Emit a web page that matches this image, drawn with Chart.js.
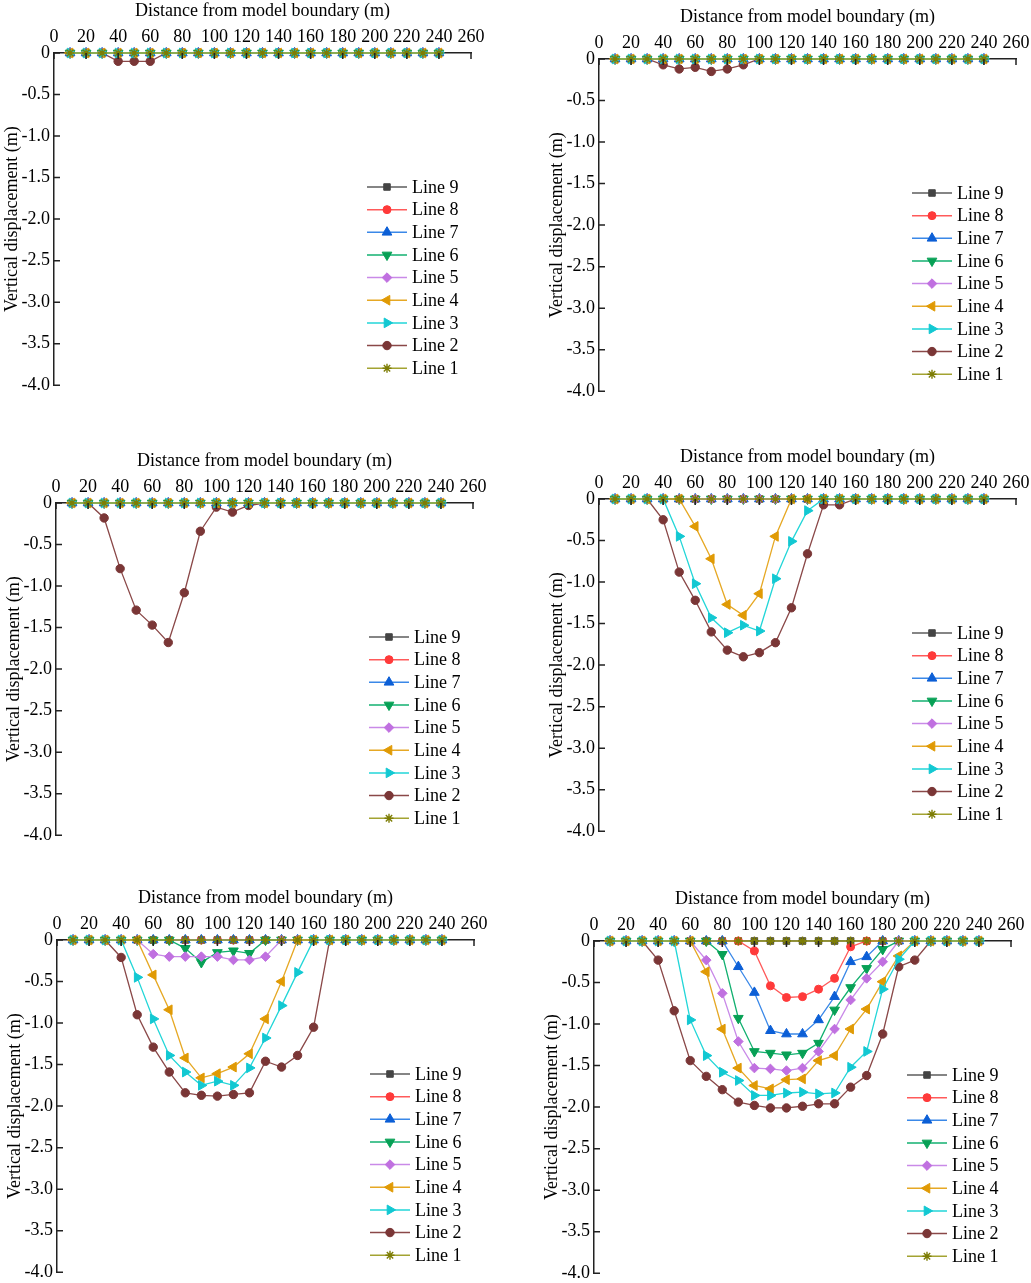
<!DOCTYPE html>
<html>
<head>
<meta charset="utf-8">
<script src="https://cdn.jsdelivr.net/npm/chart.js@4.4.1/dist/chart.umd.min.js"></script>
<style>
  body { margin: 0; background: #fff; }
  .page { position: relative; width: 1031px; height: 1283px; overflow: hidden; background: #fff; }
  .page canvas { position: absolute; }
</style>
</head>
<body>
<div class="page">
  <canvas id="panelA" width="491" height="400" style="left:0px;top:0px"></canvas>
  <canvas id="panelB" width="491" height="400" style="left:545px;top:6px"></canvas>
  <canvas id="panelC" width="491" height="400" style="left:2px;top:450px"></canvas>
  <canvas id="panelD" width="491" height="400" style="left:545px;top:446px"></canvas>
  <canvas id="panelE" width="491" height="400" style="left:3px;top:887px"></canvas>
  <canvas id="panelF" width="491" height="400" style="left:540px;top:888px"></canvas>
</div>
<script>
// distance along the profile (m)
const distance = [10,20,30,40,50,60,70,80,90,100,110,120,130,140,150,160,170,180,190,200,210,220,230,240]
const xTicks = [0,20,40,60,80,100,120,140,160,180,200,220,240,260]
const lineNames = ['Line 9','Line 8','Line 7','Line 6','Line 5','Line 4','Line 3','Line 2','Line 1']

// vertical displacement (m), lines that stay at zero
const flat = [0,0,0,0,0,0,0,0,0,0,0,0,0,0,0,0,0,0,0,0,0,0,0,0]

// panel (a)
const aLine2 = [0,0,0,-0.10,-0.10,-0.10,0,0,0,0,0,0,0,0,0,0,0,0,0,0,0,0,0,0]
// panel (b)
const bLine2 = [0,0,0,-0.07,-0.12,-0.10,-0.15,-0.12,-0.07,0,0,0,0,0,0,0,0,0,0,0,0,0,0,0]
// panel (c)
const cLine2 = [0,0,-0.18,-0.79,-1.29,-1.47,-1.68,-1.08,-0.34,-0.05,-0.11,-0.03,0,0,0,0,0,0,0,0,0,0,0,0]
// panel (d)
const dLine2 = [0,0,0,-0.25,-0.88,-1.22,-1.60,-1.82,-1.90,-1.85,-1.73,-1.31,-0.66,-0.07,-0.07,0,0,0,0,0,0,0,0,0]
const dLine3 = [0,0,0,0,-0.45,-1.02,-1.43,-1.61,-1.52,-1.59,-0.96,-0.51,-0.14,0,0,0,0,0,0,0,0,0,0,0]
const dLine4 = [0,0,0,0,0,-0.33,-0.72,-1.27,-1.40,-1.14,-0.45,0,0,0,0,0,0,0,0,0,0,0,0,0]
// panel (e)
const eLine2 = [0,0,0,-0.21,-0.90,-1.29,-1.59,-1.84,-1.87,-1.88,-1.86,-1.84,-1.46,-1.53,-1.39,-1.05,0,0,0,0,0,0,0,0]
const eLine3 = [0,0,0,0,-0.45,-0.95,-1.39,-1.59,-1.75,-1.70,-1.75,-1.54,-1.18,-0.79,-0.39,0,0,0,0,0,0,0,0,0]
const eLine4 = [0,0,0,0,0,-0.42,-0.84,-1.42,-1.66,-1.61,-1.53,-1.37,-0.95,-0.50,0,0,0,0,0,0,0,0,0,0]
const eLine5 = [0,0,0,0,0,-0.17,-0.20,-0.20,-0.20,-0.20,-0.24,-0.24,-0.20,0,0,0,0,0,0,0,0,0,0,0]
const eLine6 = [0,0,0,0,0,0,0,-0.10,-0.27,-0.15,-0.13,-0.16,0,0,0,0,0,0,0,0,0,0,0,0]
// panel (f)
const fLine2 = [0,0,0,-0.23,-0.84,-1.44,-1.63,-1.79,-1.94,-1.98,-2.01,-2.01,-1.99,-1.96,-1.96,-1.76,-1.62,-1.12,-0.31,-0.23,0,0,0,0]
const fLine3 = [0,0,0,0,0,-0.95,-1.38,-1.58,-1.68,-1.86,-1.86,-1.83,-1.82,-1.84,-1.83,-1.52,-1.33,-0.58,-0.22,0,0,0,0,0]
const fLine4 = [0,0,0,0,0,0,-0.37,-1.06,-1.53,-1.74,-1.78,-1.67,-1.66,-1.44,-1.38,-1.06,-0.82,-0.49,-0.18,0,0,0,0,0]
const fLine5 = [0,0,0,0,0,0,-0.23,-0.63,-1.21,-1.53,-1.54,-1.56,-1.53,-1.33,-1.06,-0.71,-0.45,-0.25,0,0,0,0,0,0]
const fLine6 = [0,0,0,0,0,0,0,-0.16,-0.93,-1.33,-1.35,-1.37,-1.35,-1.23,-0.83,-0.56,-0.33,-0.10,0,0,0,0,0,0]
const fLine7 = [0,0,0,0,0,0,0,0,-0.31,-0.62,-1.08,-1.12,-1.12,-0.95,-0.67,-0.25,-0.19,0,0,0,0,0,0,0]
const fLine8 = [0,0,0,0,0,0,0,0,0,-0.12,-0.54,-0.68,-0.67,-0.58,-0.45,-0.07,0,0,0,0,0,0,0,0]

// each panel in legend order: Line 9 ... Line 1
const panelA = [flat, flat, flat, flat, flat, flat, flat, aLine2, flat]
const panelB = [flat, flat, flat, flat, flat, flat, flat, bLine2, flat]
const panelC = [flat, flat, flat, flat, flat, flat, flat, cLine2, flat]
const panelD = [flat, flat, flat, flat, flat, dLine4, dLine3, dLine2, flat]
const panelE = [flat, flat, flat, eLine6, eLine5, eLine4, eLine3, eLine2, flat]
const panelF = [flat, fLine8, fLine7, fLine6, fLine5, fLine4, fLine3, fLine2, flat]

// look of each line (same order as lineNames)
const lineColors = ['#5c5c5c','#ff5a5a','#3a88e8','#12b070','#c98ae8','#e6a824','#22d6d8','#8a4848','#a3a332']
const markColors = ['#444444','#ff3a3a','#0c5fd6','#07a055','#c070e0','#e09a05','#12c8d2','#7a3636','#7d7d05']
const markStyles = ['rect','circle','triangle','triangle','rectRot','triangle','triangle','circle','star']
const markRotation = [0,0,0,180,0,-90,90,0,0]
const markRadius = [4.6,4,5.6,5.6,4.8,5.6,5.6,4.2,4.5]
const drawOrder = [7,6,5,4,3,2,1,8,0]   // star on top, Line 2 at the bottom like the figure

Chart.defaults.font.family = '"Liberation Serif", "Times New Roman", serif'
Chart.defaults.font.size = 18
Chart.defaults.color = '#000'

// small ticks pointing into the plot
const inwardTicks = {
  id: 'inwardTicks',
  afterDraw(chart) {
    const { ctx, chartArea, scales } = chart
    ctx.save()
    ctx.strokeStyle = '#222'
    ctx.lineWidth = 1.5
    ctx.beginPath()
    scales.x.ticks.forEach(t => {
      const px = scales.x.getPixelForValue(t.value)
      ctx.moveTo(px, chartArea.top)
      ctx.lineTo(px, chartArea.top + 6)
    })
    scales.y.ticks.forEach(t => {
      const py = scales.y.getPixelForValue(t.value)
      ctx.moveTo(chartArea.left, py)
      ctx.lineTo(chartArea.left + 6, py)
    })
    ctx.stroke()
    ctx.restore()
  }
}

// legend drawn inside the plot, lower right
const lineLegend = {
  id: 'lineLegend',
  afterDraw(chart) {
    const { ctx, chartArea } = chart
    const x0 = chartArea.right - 104
    ctx.save()
    chart.data.datasets.forEach((ds, i) => {
      const y = chartArea.bottom - 17 - (8 - i) * 22.65
      ctx.strokeStyle = ds.borderColor
      ctx.lineWidth = 1.5
      ctx.beginPath()
      ctx.moveTo(x0, y)
      ctx.lineTo(x0 + 40, y)
      ctx.stroke()
      ctx.fillStyle = ds.pointBackgroundColor
      ctx.strokeStyle = ds.pointBorderColor
      ctx.lineWidth = ds.pointBorderWidth
      Chart.helpers.drawPoint(ctx, {
        pointStyle: ds.pointStyle, rotation: ds.pointRotation,
        radius: ds.pointRadius, borderWidth: ds.pointBorderWidth
      }, x0 + 20, y)
      ctx.fillStyle = '#000'
      ctx.font = '18px "Liberation Serif", "Times New Roman", serif'
      ctx.textBaseline = 'middle'
      ctx.textAlign = 'left'
      ctx.fillText(ds.label, x0 + 45, y + 1)
    })
    ctx.restore()
  }
}

function makePanel(id, lines) {
  const datasets = lineNames.map((name, i) => ({
    label: name,
    data: distance.map((d, k) => ({ x: d, y: lines[i][k] })),
    borderColor: lineColors[i],
    borderWidth: 1.3,
    pointStyle: markStyles[i],
    pointRotation: markRotation[i],
    pointRadius: markRadius[i],
    pointBackgroundColor: markColors[i],
    pointBorderColor: markColors[i],
    pointBorderWidth: markStyles[i] === 'star' ? 1.4 : 1,
    order: drawOrder[i],
    clip: false,
    fill: false,
    tension: 0
  }))

  return new Chart(document.getElementById(id), {
    type: 'line',
    data: { datasets },
    options: {
      responsive: false,
      animation: false,
      layout: { padding: { left: 0, top: 0, right: 20, bottom: 12 } },
      plugins: { legend: { display: false }, tooltip: { enabled: false } },
      scales: {
        x: {
          type: 'linear', position: 'top', min: 0, max: 260,
          afterBuildTicks: s => { s.ticks = xTicks.map(v => ({ value: v })) },
          ticks: { autoSkip: false, maxRotation: 0, padding: 5, color: '#000' },
          grid: { display: false, drawTicks: false },
          border: { display: true, color: '#222', width: 1.5 },
          title: { display: true, text: 'Distance from model boundary (m)', color: '#000', padding: { top: 0, bottom: 0 } },
          afterFit: s => { s.height = 53 }
        },
        y: {
          type: 'linear', min: -4, max: 0,
          ticks: { stepSize: 0.5, padding: 4, color: '#000', callback: v => v === 0 ? '0' : v.toFixed(1) },
          grid: { display: false, drawTicks: false },
          border: { display: true, color: '#222', width: 1.5 },
          title: { display: true, text: 'Vertical displacement (m)', color: '#000', padding: { top: 1, bottom: 0 } },
          afterFit: s => { s.width = 54 }
        }
      }
    },
    plugins: [inwardTicks, lineLegend]
  })
}

makePanel('panelA', panelA)
makePanel('panelB', panelB)
makePanel('panelC', panelC)
makePanel('panelD', panelD)
makePanel('panelE', panelE)
makePanel('panelF', panelF)
</script>
</body>
</html>
